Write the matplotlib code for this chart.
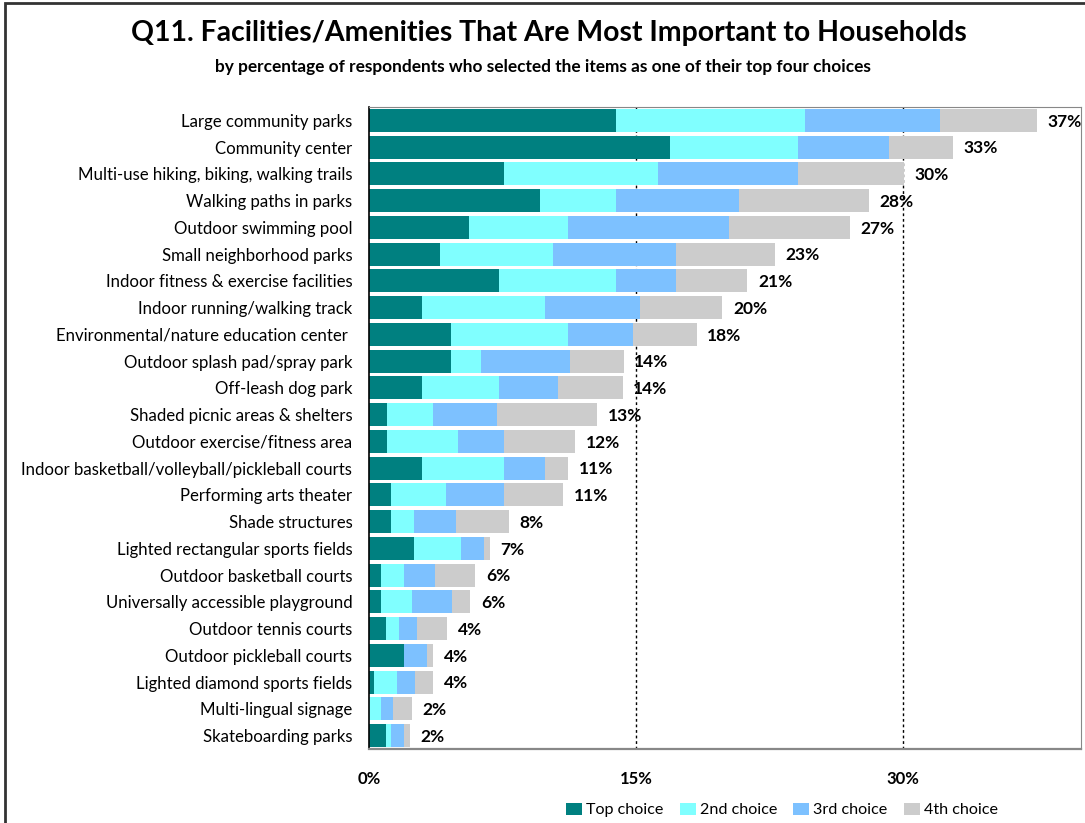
import numpy as np
import matplotlib.pyplot as plt
from matplotlib.patches import Rectangle

plt.rcParams['font.family'] = ['Lato', 'DejaVu Sans']

# --- data ---
items = [
    "Large community parks", "Community center",
    "Multi-use hiking, biking, walking trails", "Walking paths in parks",
    "Outdoor swimming pool", "Small neighborhood parks",
    "Indoor fitness & exercise facilities", "Indoor running/walking track",
    "Environmental/nature education center ", "Outdoor splash pad/spray park",
    "Off-leash dog park", "Shaded picnic areas & shelters",
    "Outdoor exercise/fitness area", "Indoor basketball/volleyball/pickleball courts",
    "Performing arts theater", "Shade structures",
    "Lighted rectangular sports fields", "Outdoor basketball courts",
    "Universally accessible playground", "Outdoor tennis courts",
    "Outdoor pickleball courts", "Lighted diamond sports fields",
    "Multi-lingual signage", "Skateboarding parks",
]
top_choice = [13.9, 16.9, 7.6, 9.6, 5.6, 4.0, 7.3, 3.0, 4.6, 4.6, 3.0, 1.0,
              1.0, 3.0, 1.25, 1.25, 2.55, 0.66, 0.66, 0.97, 1.97, 0.26, 0.0, 0.97]
second_choice = [10.6, 7.2, 8.65, 4.3, 5.6, 6.35, 6.6, 6.9, 6.6, 1.7, 4.3, 2.6,
                 4.0, 4.6, 3.05, 1.3, 2.6, 1.3, 1.75, 0.72, 0.0, 1.3, 0.66, 0.28]
third_choice = [7.6, 5.1, 7.85, 6.9, 9.0, 6.9, 3.35, 5.3, 3.65, 5.0, 3.3, 3.6,
                2.6, 2.3, 3.3, 2.35, 1.3, 1.73, 2.26, 1.0, 1.3, 1.0, 0.71, 0.72]
fourth_choice = [5.4, 3.6, 5.95, 7.3, 6.8, 5.55, 4.0, 4.65, 3.55, 3.0, 3.65, 5.6,
                 4.0, 1.3, 3.3, 2.97, 0.34, 2.27, 1.03, 1.72, 0.34, 1.05, 1.03, 0.32]
totals = [37, 33, 30, 28, 27, 23, 21, 20, 18, 14, 14, 13,
          12, 11, 11, 8, 7, 6, 6, 4, 4, 4, 2, 2]

series = [("Top choice", top_choice, "#008080"),
          ("2nd choice", second_choice, "#80FFFF"),
          ("3rd choice", third_choice, "#7DC1FF"),
          ("4th choice", fourth_choice, "#CCCCCC")]

W, H = 1085, 823
fig = plt.figure(figsize=(W / 100, H / 100), dpi=100)

# outer frame (only top and left edges fall inside the picture)
fig.patches.append(Rectangle((5 / W, -0.1), 1.2, 1 - 3 / H + 0.1,
                             transform=fig.transFigure, fill=False,
                             edgecolor="#333333", linewidth=2))

ax = fig.add_axes([369 / W, 1 - 749 / H, (1081 - 369) / W, (749 - 107) / H])

y = np.arange(len(items))
left = np.zeros(len(items))
for name, vals, col in series:
    vals = np.array(vals)
    ax.barh(y, vals, left=left, height=0.86, color=col, label=name, zorder=2)
    left += vals

for yi, end, t in zip(y, left, totals):
    ax.text(end + 0.6, yi + 0.05, f"{t}%", va="center", ha="left",
            fontsize=12.5, fontweight="bold", zorder=3)

ax.set_xlim(0, 40)
ax.set_ylim(len(items) - 0.5, -0.5)
ax.set_yticks(y)
ax.set_yticklabels(items, fontsize=12.1)
ax.set_xticks([0, 15, 30])
ax.set_xticklabels(["0%", "15%", "30%"], fontsize=12, fontweight="bold")
ax.tick_params(axis="y", length=0, pad=12)
ax.tick_params(axis="x", length=0, pad=16)

for xv in [15, 30]:
    ax.axvline(xv, color="black", linestyle=(0, (2, 2)), linewidth=1, zorder=1)

for side in ["top", "right", "bottom"]:
    ax.spines[side].set_color("#888888")
ax.spines["bottom"].set_linewidth(1.6)
ax.spines["left"].set_color("black")
ax.spines["left"].set_linewidth(1.2)

fig.text(549 / W, 1 - 33 / H,
         "Q11. Facilities/Amenities That Are Most Important to Households",
         ha="center", va="center", fontsize=20.4, fontweight="bold")
fig.text(543 / W, 1 - 67 / H,
         "by percentage of respondents who selected the items as one of their top four choices",
         ha="center", va="center", fontsize=12.4, fontweight="bold")

fig.legend(loc="center", bbox_to_anchor=(782 / W, 1 - 810 / H), ncol=4,
           frameon=False, fontsize=11.6, handlelength=1.0, handleheight=0.8,
           handletextpad=0.25, columnspacing=1.0)

fig.savefig("out.png", dpi=100)
